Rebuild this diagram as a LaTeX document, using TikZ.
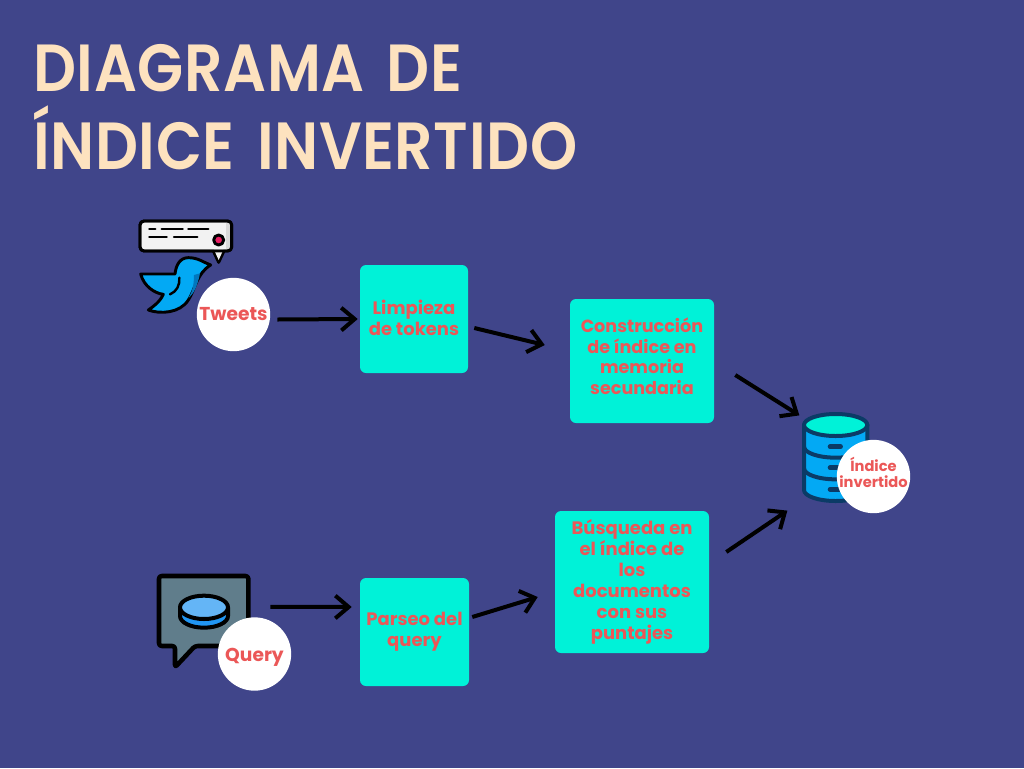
\documentclass[tikz,border=0pt]{standalone}
\usepackage{fontspec}
\usetikzlibrary{arrows.meta,calc}
\setmainfont{Poppins}
\newfontfamily\titlefont{Poppins SemiBold}[LetterSpace=1,WordSpace=1.5]
\definecolor{bgc}{HTML}{40458A}
\definecolor{cream}{HTML}{FDE2BF}
\definecolor{boxc}{HTML}{00F2D8}
\definecolor{redt}{HTML}{EB5757}
\definecolor{birdb}{HTML}{03A9F4}
\definecolor{birdd}{HTML}{0277BD}
\definecolor{dbline}{HTML}{0B3B66}
\tikzset{
 x=0.75pt,y=-0.75pt,
 stepbox/.style={draw=none,fill=boxc,rounded corners=4.5pt,inner sep=2pt,align=center,text=redt,font=\fontsize{13.5}{15.8}\selectfont\bfseries},
 badge/.style={circle,fill=white,minimum size=55pt,inner sep=0pt,align=center,text=redt,font=\fontsize{14}{16}\selectfont\bfseries},
 conn/.style={draw=black,line width=3pt,-{Straight Barb[length=10pt,width=17pt,line width=3pt]}},
 titletext/.style={text=cream,anchor=base west,inner sep=0pt,font=\titlefont\fontsize{50}{60}\selectfont},
 icon/.style={x=0.25pt,y=-0.25pt,line join=round,line cap=round},
}
\begin{document}
\begin{tikzpicture}
\useasboundingbox (0,0) rectangle (1024,768);
\fill[bgc] (0,0) rectangle (1024,768);
\node[titletext] (t1) at (33,91) {\scalebox{0.90}[1]{DIAGRAMA DE}};
\node[titletext] (t2) at (33,169) {\scalebox{0.90}[1]{ÍNDICE INVERTIDO}};

% tweet icon
\begin{scope}[shift={(120,205)},icon]
 \draw[black,line width=2.2pt,fill=white!95!black] (280,138) -- (296,172) -- (312,138);
 \draw[black,line width=2.2pt,fill=white!95!black,rounded corners=3pt] (60,48) rectangle (335,138);
 \fill[white!95!black] (282,134) -- (310,134) -- (296,165) -- cycle;
 \fill[white!85!black] (318,53) -- (330,53) -- (330,133) -- (318,133) -- cycle;
 \draw[black,line width=2.2pt,rounded corners=3pt] (60,48) rectangle (335,138);
 \draw[black,line width=1.8pt] (88,72) -- (106,72) (125,72) -- (188,72) (205,72) -- (265,72) (88,96) -- (140,96) (162,96) -- (232,96);
 \draw[black,line width=2.2pt,fill={rgb,255:red,233;green,30;blue,99}] (296,105) circle (15);
 \draw[black,line width=2.2pt,fill=birdb] (272,180) .. controls (250,172) and (235,158) .. (205,158)
   .. controls (180,158) and (168,180) .. (165,207)
   -- (62,207) .. controls (72,245) and (105,265) .. (130,268)
   .. controls (120,290) and (100,305) .. (85,315)
   .. controls (120,328) and (180,325) .. (205,285)
   .. controls (225,255) and (230,205) .. cycle;
 \fill[birdd] (240,205) .. controls (232,245) and (222,265) .. (205,280) .. controls (220,255) and (222,230) .. (222,210) -- cycle;
 \draw[black,line width=1.8pt] (178,218) .. controls (180,240) and (170,260) .. (150,268);
\end{scope}

% query icon
\begin{scope}[shift={(140,560)},icon]
 \draw[black,line width=3.4pt,fill={rgb,255:red,96;green,125;blue,139},rounded corners=2pt] (165,258) -- (105,322) -- (105,258) -- (57,258) -- (57,48) -- (325,48) -- (325,258) -- cycle;
 \draw[black,line width=3pt,fill={rgb,255:red,33;green,150;blue,243}] (120,142) -- (120,168) arc[start angle=180,end angle=0,x radius=72,y radius=35] -- (264,142) -- cycle;
 \draw[black,line width=3pt,fill={rgb,255:red,100;green,181;blue,246}] (192,142) ellipse[x radius=72,y radius=35];
\end{scope}

% database icon
\begin{scope}[shift={(780,390)},icon]
 \draw[dbline,line width=3pt,fill=birdb] (72,105) -- (72,300) arc[start angle=180,end angle=0,x radius=95,y radius=33] -- (262,105) -- cycle;
 \draw[dbline,line width=3pt] (72,170) arc[start angle=180,end angle=0,x radius=95,y radius=33];
 \draw[dbline,line width=3pt] (72,235) arc[start angle=180,end angle=0,x radius=95,y radius=33];
 \draw[dbline,line width=3pt,fill=boxc] (167,105) ellipse[x radius=95,y radius=33];
 \draw[dbline,line width=3.4pt] (150,170) -- (182,170) (150,233) -- (182,233) (150,298) -- (182,298);
\end{scope}

\node[badge] (tw) at (233.5,314.5) {Tweets};
\node[badge,text height=14.5pt] (qu) at (254.5,654) {Query};
\node[badge,inner sep=-8pt,text depth=6pt,font=\fontsize{11}{12.5}\selectfont\bfseries] (ii) at (873.5,476.5) {Índice\\invertido};

\node[stepbox,minimum width=81pt,minimum height=81pt,text depth=1.5pt] (lt) at (414,319) {Limpieza\\de tokens};
\node[stepbox,minimum width=108pt,minimum height=93pt,font=\fontsize{13.2}{15.5}\selectfont\bfseries,text depth=7.5pt] (ci) at (642,361) {Construcción\\de índice en\\memoria\\secundaria};
\node[stepbox,minimum width=115.5pt,minimum height=106.5pt] (bq) at (632,582) {Búsqueda en\\el índice de\\los\\documentos\\con sus\\puntajes};
\node[stepbox,minimum width=81.75pt,minimum height=81pt] (pq) at (414.5,632) {Parseo del\\query};

\draw[conn] ($(tw.east)+(7,5)$) -- ($(lt.west)+(-2,0)$);
\draw[conn] ($(lt.east)+(6,9)$) -- ($(ci.west)+(-25,-16)$);
\draw[conn] ($(ci.east)+(21,14)$) -- ($(ii.north west)+(-48,-35)$);
\draw[conn] ($(bq.east)+(17,-30)$) -- ($(ii.south west)+(-60,8)$);
\draw[conn] ($(qu.north west)+(42,-21)$) -- ($(pq.west)+(-8,-25)$);
\draw[conn] ($(pq.east)+(3,-15)$) -- ($(bq.west)+(-17,15)$);
\end{tikzpicture}
\end{document}
